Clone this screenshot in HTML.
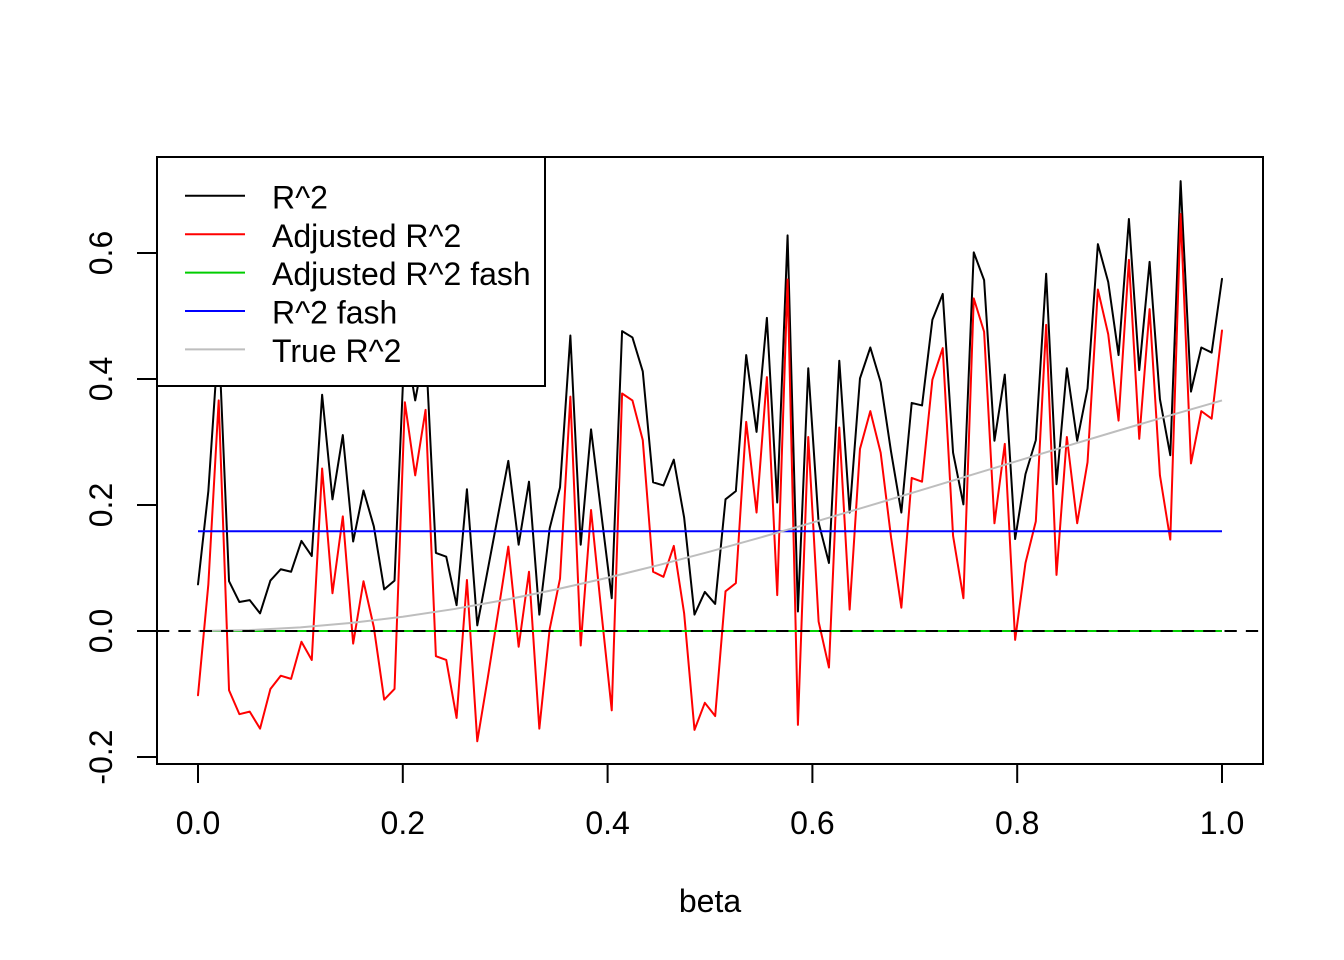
<!DOCTYPE html>
<html>
<head>
<meta charset="utf-8">
<style>
  html, body { margin: 0; padding: 0; background: #ffffff; }
  svg { display: block; }
  text { font-family: "Liberation Sans", Arial, sans-serif; font-size: 32px; fill: #000; }
</style>
</head>
<body>
<svg width="1344" height="960" viewBox="0 0 1344 960" xmlns="http://www.w3.org/2000/svg">
  <rect x="0" y="0" width="1344" height="960" fill="#ffffff"/>

  <!-- plot box -->
  <rect x="157" y="157" width="1106" height="607" fill="none" stroke="#000" stroke-width="2"/>

  <!-- data series: x in index units (0..99), y in value units -->
  <g transform="translate(198,631) scale(10.343434,-630)" fill="none" stroke-linejoin="round" stroke-linecap="round">
    <polyline vector-effect="non-scaling-stroke" stroke="#000000" stroke-width="2" points="0,0.074 1,0.222 2,0.467 3,0.079 4,0.046 5,0.049 6,0.028 7,0.080 8,0.098 9,0.094 10,0.143 11,0.119 12,0.375 13,0.209 14,0.311 15,0.142 16,0.223 17,0.166 18,0.066 19,0.080 20,0.465 21,0.366 22,0.455 23,0.124 24,0.118 25,0.041 26,0.225 27,0.009 28,0.096 29,0.183 30,0.270 31,0.137 32,0.237 33,0.026 34,0.163 35,0.228 36,0.469 37,0.137 38,0.320 39,0.185 40,0.052 41,0.476 42,0.466 43,0.412 44,0.236 45,0.231 46,0.272 47,0.180 48,0.026 49,0.062 50,0.043 51,0.209 52,0.222 53,0.438 54,0.316 55,0.497 56,0.204 57,0.628 58,0.031 59,0.417 60,0.172 61,0.108 62,0.429 63,0.188 64,0.401 65,0.450 66,0.395 67,0.285 68,0.188 69,0.362 70,0.358 71,0.494 72,0.535 73,0.283 74,0.201 75,0.601 76,0.557 77,0.302 78,0.407 79,0.146 80,0.249 81,0.303 82,0.567 83,0.233 84,0.417 85,0.302 86,0.385 87,0.614 88,0.554 89,0.438 90,0.654 91,0.414 92,0.586 93,0.368 94,0.279 95,0.714 96,0.380 97,0.450 98,0.442 99,0.559"/>
    <polyline vector-effect="non-scaling-stroke" stroke="#ff0000" stroke-width="2" points="0,-0.102 1,0.074 2,0.366 3,-0.094 4,-0.132 5,-0.128 6,-0.155 7,-0.092 8,-0.071 9,-0.076 10,-0.017 11,-0.046 12,0.258 13,0.060 14,0.182 15,-0.020 16,0.079 17,0.006 18,-0.109 19,-0.092 20,0.363 21,0.247 22,0.351 23,-0.040 24,-0.046 25,-0.138 26,0.081 27,-0.175 28,-0.076 29,0.028 30,0.134 31,-0.025 32,0.094 33,-0.155 34,0.003 35,0.083 36,0.372 37,-0.023 38,0.192 39,0.030 40,-0.126 41,0.377 42,0.366 43,0.303 44,0.094 45,0.086 46,0.135 47,0.028 48,-0.157 49,-0.114 50,-0.135 51,0.063 52,0.076 53,0.332 54,0.188 55,0.403 56,0.057 57,0.558 58,-0.149 59,0.308 60,0.015 61,-0.058 62,0.323 63,0.034 64,0.289 65,0.349 66,0.283 67,0.149 68,0.037 69,0.243 70,0.237 71,0.399 72,0.449 73,0.151 74,0.052 75,0.528 76,0.475 77,0.171 78,0.297 79,-0.014 80,0.108 81,0.174 82,0.486 83,0.089 84,0.308 85,0.171 86,0.268 87,0.542 88,0.471 89,0.334 90,0.589 91,0.305 92,0.511 93,0.247 94,0.145 95,0.662 96,0.266 97,0.349 98,0.337 99,0.477"/>
  </g>

  <!-- Adjusted R^2 fash (green, at 0) -->
  <line x1="198" y1="631" x2="1222" y2="631" stroke="#00cd00" stroke-width="2"/>
  <!-- R^2 fash (blue) -->
  <line x1="198" y1="531.2" x2="1222" y2="531.2" stroke="#0000ff" stroke-width="2"/>

  <!-- True R^2 (gray) : x in beta units -->
  <g transform="translate(198,631) scale(1024,-630)" fill="none">
    <polyline vector-effect="non-scaling-stroke" stroke="#bebebe" stroke-width="2" stroke-linejoin="round" points="0,0 0.05,0.00144 0.1,0.00574 0.15,0.01282 0.2,0.02257 0.25,0.03483 0.3,0.04940 0.35,0.06606 0.4,0.08457 0.45,0.10468 0.5,0.12614 0.55,0.14869 0.6,0.17208 0.65,0.19610 0.7,0.22052 0.75,0.24515 0.8,0.26981 0.85,0.29436 0.9,0.31865 0.95,0.34257 1,0.36603"/>
  </g>

  <!-- dashed zero line -->
  <line x1="157" y1="631" x2="1263" y2="631" stroke="#000" stroke-width="2" stroke-dasharray="12.3 9.05"/>

  <!-- legend -->
  <rect x="157" y="157" width="388" height="229" fill="#ffffff" stroke="#000" stroke-width="2"/>
  <line x1="185" y1="195.8" x2="245" y2="195.8" stroke="#000000" stroke-width="2"/>
  <line x1="185" y1="234.2" x2="245" y2="234.2" stroke="#ff0000" stroke-width="2"/>
  <line x1="185" y1="272.6" x2="245" y2="272.6" stroke="#00cd00" stroke-width="2"/>
  <line x1="185" y1="311.0" x2="245" y2="311.0" stroke="#0000ff" stroke-width="2"/>
  <line x1="185" y1="349.4" x2="245" y2="349.4" stroke="#bebebe" stroke-width="2"/>
  <text x="272" y="208.4">R^2</text>
  <text x="272" y="246.8">Adjusted R^2</text>
  <text x="272" y="285.2">Adjusted R^2 fash</text>
  <text x="272" y="323.6">R^2 fash</text>
  <text x="272" y="362">True R^2</text>

  <!-- x axis ticks -->
  <g stroke="#000" stroke-width="2">
    <line x1="198" y1="764" x2="198" y2="783"/>
    <line x1="402.8" y1="764" x2="402.8" y2="783"/>
    <line x1="607.6" y1="764" x2="607.6" y2="783"/>
    <line x1="812.4" y1="764" x2="812.4" y2="783"/>
    <line x1="1017.2" y1="764" x2="1017.2" y2="783"/>
    <line x1="1222" y1="764" x2="1222" y2="783"/>
  </g>
  <g text-anchor="middle">
    <text x="198" y="834">0.0</text>
    <text x="402.8" y="834">0.2</text>
    <text x="607.6" y="834">0.4</text>
    <text x="812.4" y="834">0.6</text>
    <text x="1017.2" y="834">0.8</text>
    <text x="1222" y="834">1.0</text>
    <text x="710" y="912">beta</text>
  </g>

  <!-- y axis ticks -->
  <g stroke="#000" stroke-width="2">
    <line x1="137" y1="757" x2="157" y2="757"/>
    <line x1="137" y1="631" x2="157" y2="631"/>
    <line x1="137" y1="505" x2="157" y2="505"/>
    <line x1="137" y1="379" x2="157" y2="379"/>
    <line x1="137" y1="253" x2="157" y2="253"/>
  </g>
  <g text-anchor="middle">
    <text transform="translate(112,757) rotate(-90)">-0.2</text>
    <text transform="translate(112,631) rotate(-90)">0.0</text>
    <text transform="translate(112,505) rotate(-90)">0.2</text>
    <text transform="translate(112,379) rotate(-90)">0.4</text>
    <text transform="translate(112,253) rotate(-90)">0.6</text>
  </g>
</svg>
</body>
</html>
